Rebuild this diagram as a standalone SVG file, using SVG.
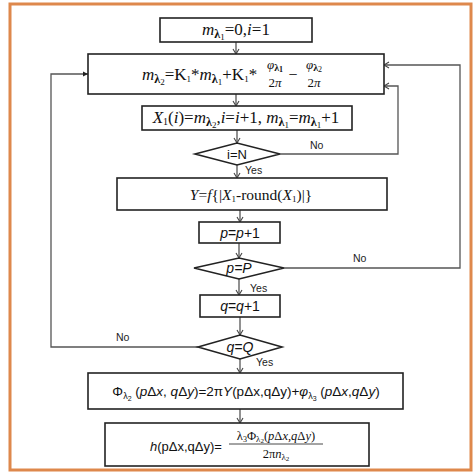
<svg xmlns="http://www.w3.org/2000/svg" width="474" height="474" viewBox="0 0 474 474">
<defs>
<marker id="av" markerWidth="8" markerHeight="8" refX="6" refY="4" orient="auto" markerUnits="userSpaceOnUse">
<path d="M1,1 L6,4 L1,7" fill="none" stroke="#444" stroke-width="1.1"/>
</marker>
<marker id="af" markerWidth="8" markerHeight="8" refX="6" refY="4" orient="auto" markerUnits="userSpaceOnUse">
<path d="M1,1.5 L6,4 L1,6.5 Z" fill="#222"/>
</marker>
<style>
.box{fill:#fff;stroke:#222;stroke-width:1.6}
.con{fill:none;stroke:#555;stroke-width:1.3}
.serif{font-family:"Liberation Serif","Times New Roman",serif;fill:#111}
.sans{font-family:"Liberation Sans",Arial,sans-serif;fill:#111}
.lbl{font-family:"Liberation Sans",Arial,sans-serif;font-size:10.5px;fill:#222}
.it{font-style:italic}
.c{text-anchor:middle}
.s1{font-size:12px;font-weight:bold}
.s2{font-size:9px}
</style>
</defs>
<rect x="0" y="0" width="474" height="474" fill="#fff"/>
<rect x="10" y="4" width="461" height="466" fill="none" stroke="#DE884C" stroke-width="3"/>

<g id="connectors">
<line class="con" x1="236" y1="42" x2="236" y2="54" marker-end="url(#av)"/>
<line class="con" x1="236" y1="94" x2="236" y2="106" marker-end="url(#av)"/>
<line class="con" x1="237" y1="130" x2="237" y2="143" marker-end="url(#av)"/>
<line class="con" x1="237" y1="165" x2="237" y2="178" marker-end="url(#av)"/>
<line class="con" x1="240" y1="210" x2="240" y2="222" marker-end="url(#av)"/>
<line class="con" x1="239" y1="243" x2="239" y2="258" marker-end="url(#av)"/>
<line class="con" x1="239" y1="279" x2="239" y2="295" marker-end="url(#av)"/>
<line class="con" x1="240" y1="317" x2="240" y2="335" marker-end="url(#av)"/>
<line class="con" x1="240" y1="359" x2="240" y2="373" marker-end="url(#av)"/>
<line class="con" x1="240" y1="409" x2="240" y2="423" marker-end="url(#av)"/>
<polyline class="con" points="280,154 398,154 398,86 384,86" marker-end="url(#av)"/>
<polyline class="con" points="284,268 460,268 460,65 384,65" marker-end="url(#av)"/>
<polyline class="con" points="198,347 51,347 51,74 88,74" marker-end="url(#af)"/>
<text class="lbl" x="310" y="149">No</text>
<text class="lbl" x="245" y="174">Yes</text>
<text class="lbl" x="353" y="262">No</text>
<text class="lbl" x="250" y="292">Yes</text>
<text class="lbl" x="116" y="341">No</text>
<text class="lbl" x="256" y="366">Yes</text>
</g>

<g id="n1">
<rect class="box" x="160" y="18" width="152" height="24"/>
<text class="serif c" x="236" y="35" font-size="17"><tspan class="it">m</tspan><tspan class="s1" dy="3">λ</tspan><tspan class="s2" dy="2">1</tspan><tspan dy="-5">=0,</tspan><tspan class="it">i</tspan>=1</text>
</g>

<g id="n2">
<rect class="box" x="88" y="54" width="296" height="40"/>
<text class="serif" x="142" y="80" font-size="17"><tspan class="it">m</tspan><tspan class="s1" dy="3">λ</tspan><tspan class="s2" dy="2">2</tspan><tspan dy="-5">=K</tspan><tspan class="s2" dy="2">1</tspan><tspan dy="-2">*</tspan><tspan class="it">m</tspan><tspan class="s1" dy="3">λ</tspan><tspan class="s2" dy="2">1</tspan><tspan dy="-5">+K</tspan><tspan class="s2" dy="2">1</tspan><tspan dy="-2">*</tspan></text>
<text class="serif c" x="275" y="69" font-size="13"><tspan class="it">φ</tspan><tspan font-size="10" font-weight="bold" dy="2">λ</tspan><tspan font-size="8" font-weight="bold" dy="1">1</tspan></text>
<text class="serif c" x="275" y="87" font-size="13">2<tspan class="it">π</tspan></text>
<text class="serif c" x="293" y="80" font-size="16">−</text>
<text class="serif c" x="314" y="69" font-size="13"><tspan class="it">φ</tspan><tspan font-size="10" font-weight="bold" dy="2">λ</tspan><tspan font-size="8" dy="1">2</tspan></text>
<text class="serif c" x="314" y="87" font-size="13">2<tspan class="it">π</tspan></text>
</g>

<g id="n3">
<rect class="box" x="142" y="106" width="210" height="24"/>
<text class="serif c" x="246" y="123" font-size="17"><tspan class="it">X</tspan><tspan font-size="10" dy="2">1</tspan><tspan dy="-2">(</tspan><tspan class="it">i</tspan>)=<tspan class="it">m</tspan><tspan class="s1" dy="3">λ</tspan><tspan class="s2" dy="2">2</tspan><tspan dy="-5">,</tspan><tspan class="it">i</tspan>=<tspan class="it">i</tspan>+1, <tspan class="it">m</tspan><tspan class="s1" dy="3">λ</tspan><tspan class="s2" dy="2">1</tspan><tspan dy="-5">=</tspan><tspan class="it">m</tspan><tspan class="s1" dy="3">λ</tspan><tspan class="s2" dy="2">1</tspan><tspan dy="-5">+1</tspan></text>
</g>

<g id="d1">
<polygon class="box" points="195,154 237,143 280,154 237,165"/>
<text class="sans c" x="237" y="159" font-size="13">i=N</text>
</g>

<g id="n4">
<rect class="box" x="117" y="178" width="270" height="32"/>
<text class="serif c" x="251" y="200" font-size="15.5"><tspan class="it">Y</tspan>=<tspan class="it">f</tspan>{|<tspan class="it">X</tspan><tspan font-size="9" dy="2">1</tspan><tspan dy="-2">-round(</tspan><tspan class="it">X</tspan><tspan font-size="9" dy="2">1</tspan><tspan dy="-2">)|}</tspan></text>
</g>

<g id="n5">
<rect class="box" x="199" y="222" width="81" height="21"/>
<text class="sans c" x="240" y="237.5" font-size="14"><tspan class="it">p</tspan>=<tspan class="it">p</tspan>+1</text>
</g>

<g id="d2">
<polygon class="box" points="194,268 239,258 284,268 239,279"/>
<text class="sans c it" x="239" y="273" font-size="14">p=P</text>
</g>

<g id="n6">
<rect class="box" x="200" y="295" width="80" height="22"/>
<text class="sans c" x="240" y="311" font-size="14"><tspan class="it">q</tspan>=<tspan class="it">q</tspan>+1</text>
</g>

<g id="d3">
<polygon class="box" points="198,347 240,335 282,347 240,359"/>
<text class="sans c it" x="240" y="352" font-size="14">q=Q</text>
</g>

<g id="n7">
<rect class="box" x="88" y="373" width="315" height="36"/>
<text class="sans c" x="246" y="396" font-size="13.5">Φ<tspan font-size="9" dy="3">λ</tspan><tspan font-size="7" dy="2">2</tspan><tspan dy="-5"> (</tspan><tspan class="it">p</tspan>Δ<tspan class="it">x</tspan>, <tspan class="it">q</tspan>Δ<tspan class="it">y</tspan>)=2π<tspan class="it">Y</tspan>(pΔx,qΔy)+<tspan class="it">φ</tspan><tspan font-size="9" dy="3">λ</tspan><tspan font-size="7" dy="2">3</tspan><tspan dy="-5"> (</tspan><tspan class="it">p</tspan>Δ<tspan class="it">x</tspan>,<tspan class="it">q</tspan>Δ<tspan class="it">y</tspan>)</text>
</g>

<g id="n8">
<rect class="box" x="105" y="423" width="264" height="43"/>
<text class="sans" x="150" y="451" font-size="13"><tspan class="it">h</tspan>(pΔx,qΔy)=</text>
<line x1="229" y1="444" x2="323" y2="444" stroke="#333" stroke-width="0.9"/>
<text class="serif c" x="276" y="440" font-size="12.5">λ<tspan font-size="8" dy="2">3</tspan><tspan dy="-2">Φ</tspan><tspan font-size="9" dy="2">λ</tspan><tspan font-size="7" dy="1">2</tspan><tspan dy="-3">(</tspan><tspan class="it">p</tspan>Δ<tspan class="it">x</tspan>,<tspan class="it">q</tspan>Δ<tspan class="it">y</tspan>)</text>
<text class="serif c" x="276" y="458" font-size="12.5">2π<tspan class="it">n</tspan><tspan font-size="9" dy="2">λ</tspan><tspan font-size="7" dy="1">2</tspan></text>
</g>
</svg>
